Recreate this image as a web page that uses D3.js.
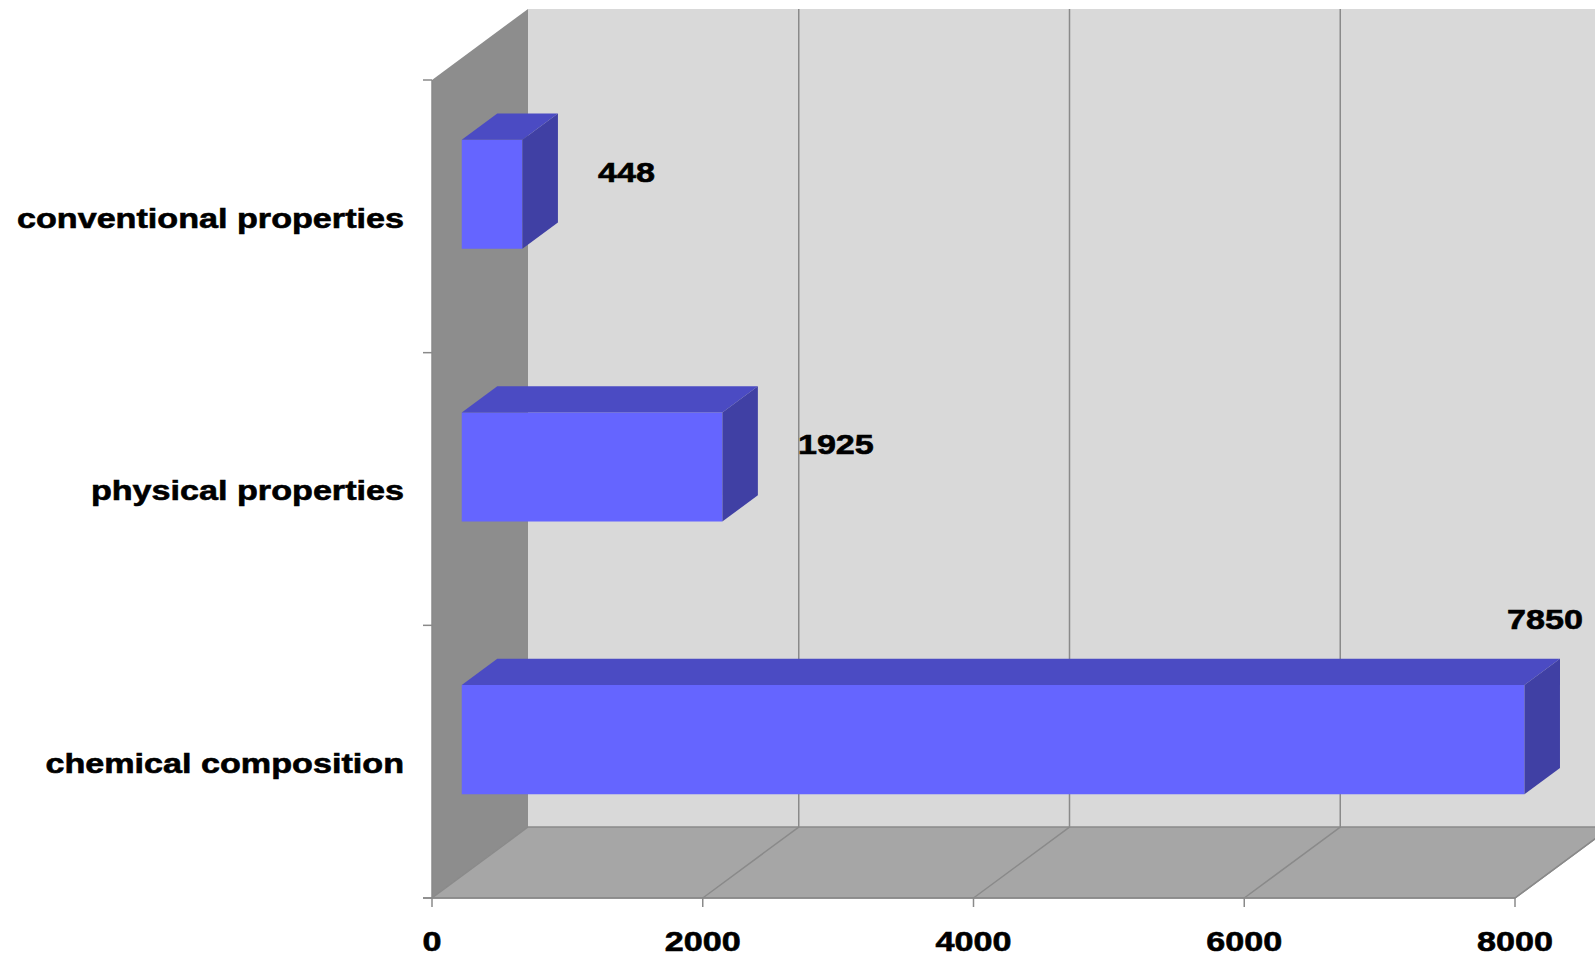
<!DOCTYPE html>
<html>
<head>
<meta charset="utf-8">
<script src="https://cdn.jsdelivr.net/npm/d3@7"></script>
<style>
  body { margin: 0; background: #fff; }
  text { font-family: "Liberation Sans", Arial, sans-serif; font-weight: bold; fill: #000; stroke: #000; stroke-width: 0.6px; }
</style>
</head>
<body>
<script>
// data
const categories = ['conventional properties', 'physical properties', 'chemical composition']
const values = [448, 1925, 7850]
const xTicks = [0, 2000, 4000, 6000, 8000]

const W = 1595, H = 957
const depth = { dx: 96, dy: -71 }      // wall depth offset
const barDepth = [0.31, 0.68]          // bars sit in the middle of the depth
const stretch = 1.22                   // text looks widened horizontally
const fontSize = 28

const svg = d3.select('body').append('svg')
  .attr('width', W)
  .attr('height', H)

const x = d3.scaleLinear().domain([0, 8000]).range([432, 1515])
const y = d3.scaleBand().domain(categories).range([80, 898])

// project front-plane point (px,py) back by depth fraction d
const P = (px, py, d) => [px + d * depth.dx, py + d * depth.dy]
const poly = pts => 'M' + pts.map(p => p.join(',')).join('L') + 'Z'

const x0 = x(0), x1 = x(8000), yTop = y.range()[0], yBot = y.range()[1]

// back wall
svg.append('path')
  .attr('d', poly([P(x0, yTop, 1), P(x1 + 200, yTop, 1), P(x1 + 200, yBot, 1), P(x0, yBot, 1)]))
  .style('fill', '#d9d9d9')
// left wall
svg.append('path')
  .attr('d', poly([P(x0, yTop, 0), P(x0, yTop, 1), P(x0, yBot, 1), P(x0, yBot, 0)]))
  .style('fill', '#8d8d8d')
// floor
svg.append('path')
  .attr('d', poly([P(x0, yBot, 0), P(x1, yBot, 0), P(x1, yBot, 1), P(x0, yBot, 1)]))
  .style('fill', '#a6a6a6')
  .style('stroke', '#8a8a8a')
  .style('stroke-width', 1.5)

// gridlines on back wall and floor
xTicks.filter(v => v > 0).forEach(v => {
  const a = P(x(v), yBot, 0), b = P(x(v), yBot, 1), c = P(x(v), yTop, 1)
  svg.append('path')
    .attr('d', 'M' + a + 'L' + b + 'L' + c)
    .style('fill', 'none')
    .style('stroke', '#8a8a8a')
    .style('stroke-width', 1.5)
})

// axis lines
svg.append('line')
  .attr('x1', x0).attr('x2', x0).attr('y1', yTop).attr('y2', yBot)
  .style('stroke', '#8a8a8a').style('stroke-width', 1.5)
svg.append('line')
  .attr('x1', x0 - 9).attr('x2', x1).attr('y1', yBot).attr('y2', yBot)
  .style('stroke', '#8a8a8a').style('stroke-width', 1.5)

// y ticks at category boundaries
const bounds = categories.map(c => y(c)).concat([yBot])
bounds.forEach(b => {
  svg.append('line')
    .attr('x1', x0 - 9).attr('x2', x0).attr('y1', b).attr('y2', b)
    .style('stroke', '#8a8a8a').style('stroke-width', 1.5)
})
// x ticks
xTicks.forEach(v => {
  svg.append('line')
    .attr('x1', x(v)).attr('x2', x(v)).attr('y1', yBot).attr('y2', yBot + 9)
    .style('stroke', '#8a8a8a').style('stroke-width', 1.5)
})

function label(px, py, str, anchor) {
  const g = svg.append('g').attr('transform', `translate(${px},${py}) scale(${stretch},1)`)
  g.append('text')
    .attr('text-anchor', anchor)
    .attr('dominant-baseline', 'central')
    .style('font-size', fontSize + 'px')
    .text(str)
}

// tick labels
xTicks.forEach(v => label(x(v), 942, d3.format('d')(v), 'middle'))
categories.forEach(c => label(404, y(c) + y.bandwidth() / 2 + 2, c, 'end'))

// bars
const barH = y.bandwidth() * 0.4
categories.forEach((c, i) => {
  const v = values[i]
  const cy = y(c) + y.bandwidth() / 2
  const t = cy - barH / 2, b = cy + barH / 2
  const [d0, d1] = barDepth
  // front face
  svg.append('path')
    .attr('d', poly([P(x(0), t, d0), P(x(v), t, d0), P(x(v), b, d0), P(x(0), b, d0)]))
    .style('fill', '#6565ff')
  // top face
  svg.append('path')
    .attr('d', poly([P(x(0), t, d0), P(x(v), t, d0), P(x(v), t, d1), P(x(0), t, d1)]))
    .style('fill', '#4b4bc3')
  // side face
  svg.append('path')
    .attr('d', poly([P(x(v), t, d0), P(x(v), t, d1), P(x(v), b, d1), P(x(v), b, d0)]))
    .style('fill', '#4040a4')

  // value label
  const backRight = P(x(v), t, d1)
  const frontMid = P(x(v), cy, d0)
  const w = 0.556 * fontSize * stretch * String(v).length
  if (backRight[0] + 40 + w > W) {
    label(backRight[0] - 15, backRight[1] - 39, String(v), 'middle')
  } else {
    label(backRight[0] + 40 + w / 2, frontMid[1] - 22, String(v), 'middle')
  }
})
</script>
</body>
</html>
